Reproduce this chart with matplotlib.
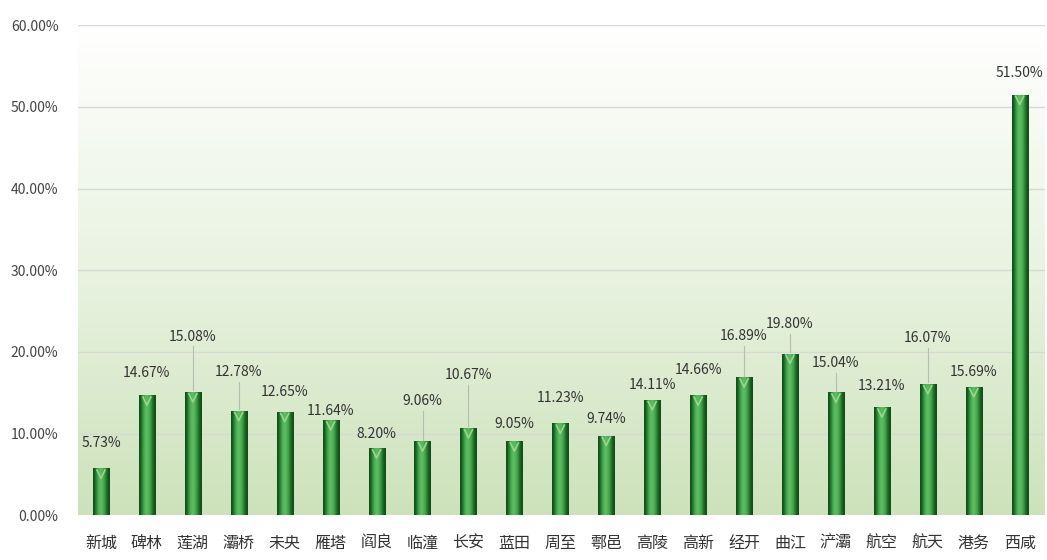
import numpy as np
import matplotlib
matplotlib.use("Agg")
import matplotlib.pyplot as plt

plt.rcParams['font.family'] = ['Noto Sans CJK SC', 'DejaVu Sans']

districts = ['新城', '碑林', '莲湖', '灞桥', '未央', '雁塔', '阎良', '临潼', '长安', '蓝田', '周至',
             '鄠邑', '高陵', '高新', '经开', '曲江', '浐灞', '航空', '航天', '港务', '西咸']
rates = [5.73, 14.67, 15.08, 12.78, 12.65, 11.64, 8.20, 9.06, 10.67, 9.05, 11.23,
         9.74, 14.11, 14.66, 16.89, 19.80, 15.04, 13.21, 16.07, 15.69, 51.50]
# how far above the bar each value label sits (in percentage points)
label_lift = [3.1, 2.8, 6.8, 4.7, 2.4, 1.1, 1.7, 4.9, 6.5, 2.1, 3.1,
              2.1, 1.8, 3.1, 5.0, 3.6, 3.6, 2.6, 5.6, 1.8, 2.7]
yticks = [0, 10, 20, 30, 40, 50, 60]

fig = plt.figure(figsize=(10.47, 5.6), dpi=100)
ax = fig.add_axes([0.0745, 0.08, 0.9235, 0.875])

x = np.arange(len(districts))
ax.set_xlim(-0.5, len(districts) - 0.45)
ax.set_ylim(0, 60)

# background gradient: white at top to pale green at bottom
bg = np.linspace(0, 1, 256).reshape(-1, 1)
bg_cmap = matplotlib.colors.LinearSegmentedColormap.from_list('bg', ['#cde2bb', '#e9f3e1', '#ffffff'])
ax.imshow(bg, cmap=bg_cmap, aspect='auto', extent=[-0.5, len(districts) - 0.45, 0, 60],
          origin='lower', zorder=0)

for yv in yticks:
    ax.axhline(yv, color='#d6dad2', lw=1.0, zorder=1)

bars = ax.bar(x, rates, width=0.35, color='#2e8b37', zorder=2)

# cylinder shading on each bar
cyl = np.array([[0, 0.35, 0.75, 1.0, 0.85, 0.55, 0.2, 0.0]])
cyl_cmap = matplotlib.colors.LinearSegmentedColormap.from_list('cyl', ['#0f4d17', '#3a9a42', '#5fc066'])
for b in bars:
    x0, w, h = b.get_x(), b.get_width(), b.get_height()
    im = ax.imshow(cyl, cmap=cyl_cmap, aspect='auto', extent=[x0, x0 + w, 0, h], zorder=3,
                   interpolation='bicubic')
    im.set_clip_path(b)
    ax.plot([x0 + w * 0.25, x0 + w * 0.5, x0 + w * 0.75], [h - 0.2, h - 1.2, h - 0.2],
            color='#9ad68e', lw=1.2, zorder=4)

for xi, v, lift in zip(x, rates, label_lift):
    ty = v + lift
    ax.text(xi, ty, f'{v:.2f}%', ha='center', va='center', fontsize=10, color='#333333', zorder=5)
    if lift > 3.3:
        ax.plot([xi, xi], [v + 0.2, ty - 1.2], color='#b5bcb0', lw=0.8, zorder=2)

ax.set_yticks(yticks)
ax.set_yticklabels([f'{t:.2f}%' for t in yticks], fontsize=10, color='#444444')
ax.set_xticks(x)
ax.set_xticklabels(districts, fontsize=11.5, color='#333333')
ax.tick_params(axis='both', length=0)
ax.tick_params(axis='x', pad=14)
ax.tick_params(axis='y', pad=14)
for s in ax.spines.values():
    s.set_visible(False)

fig.savefig('out.png', dpi=100, facecolor='white')
